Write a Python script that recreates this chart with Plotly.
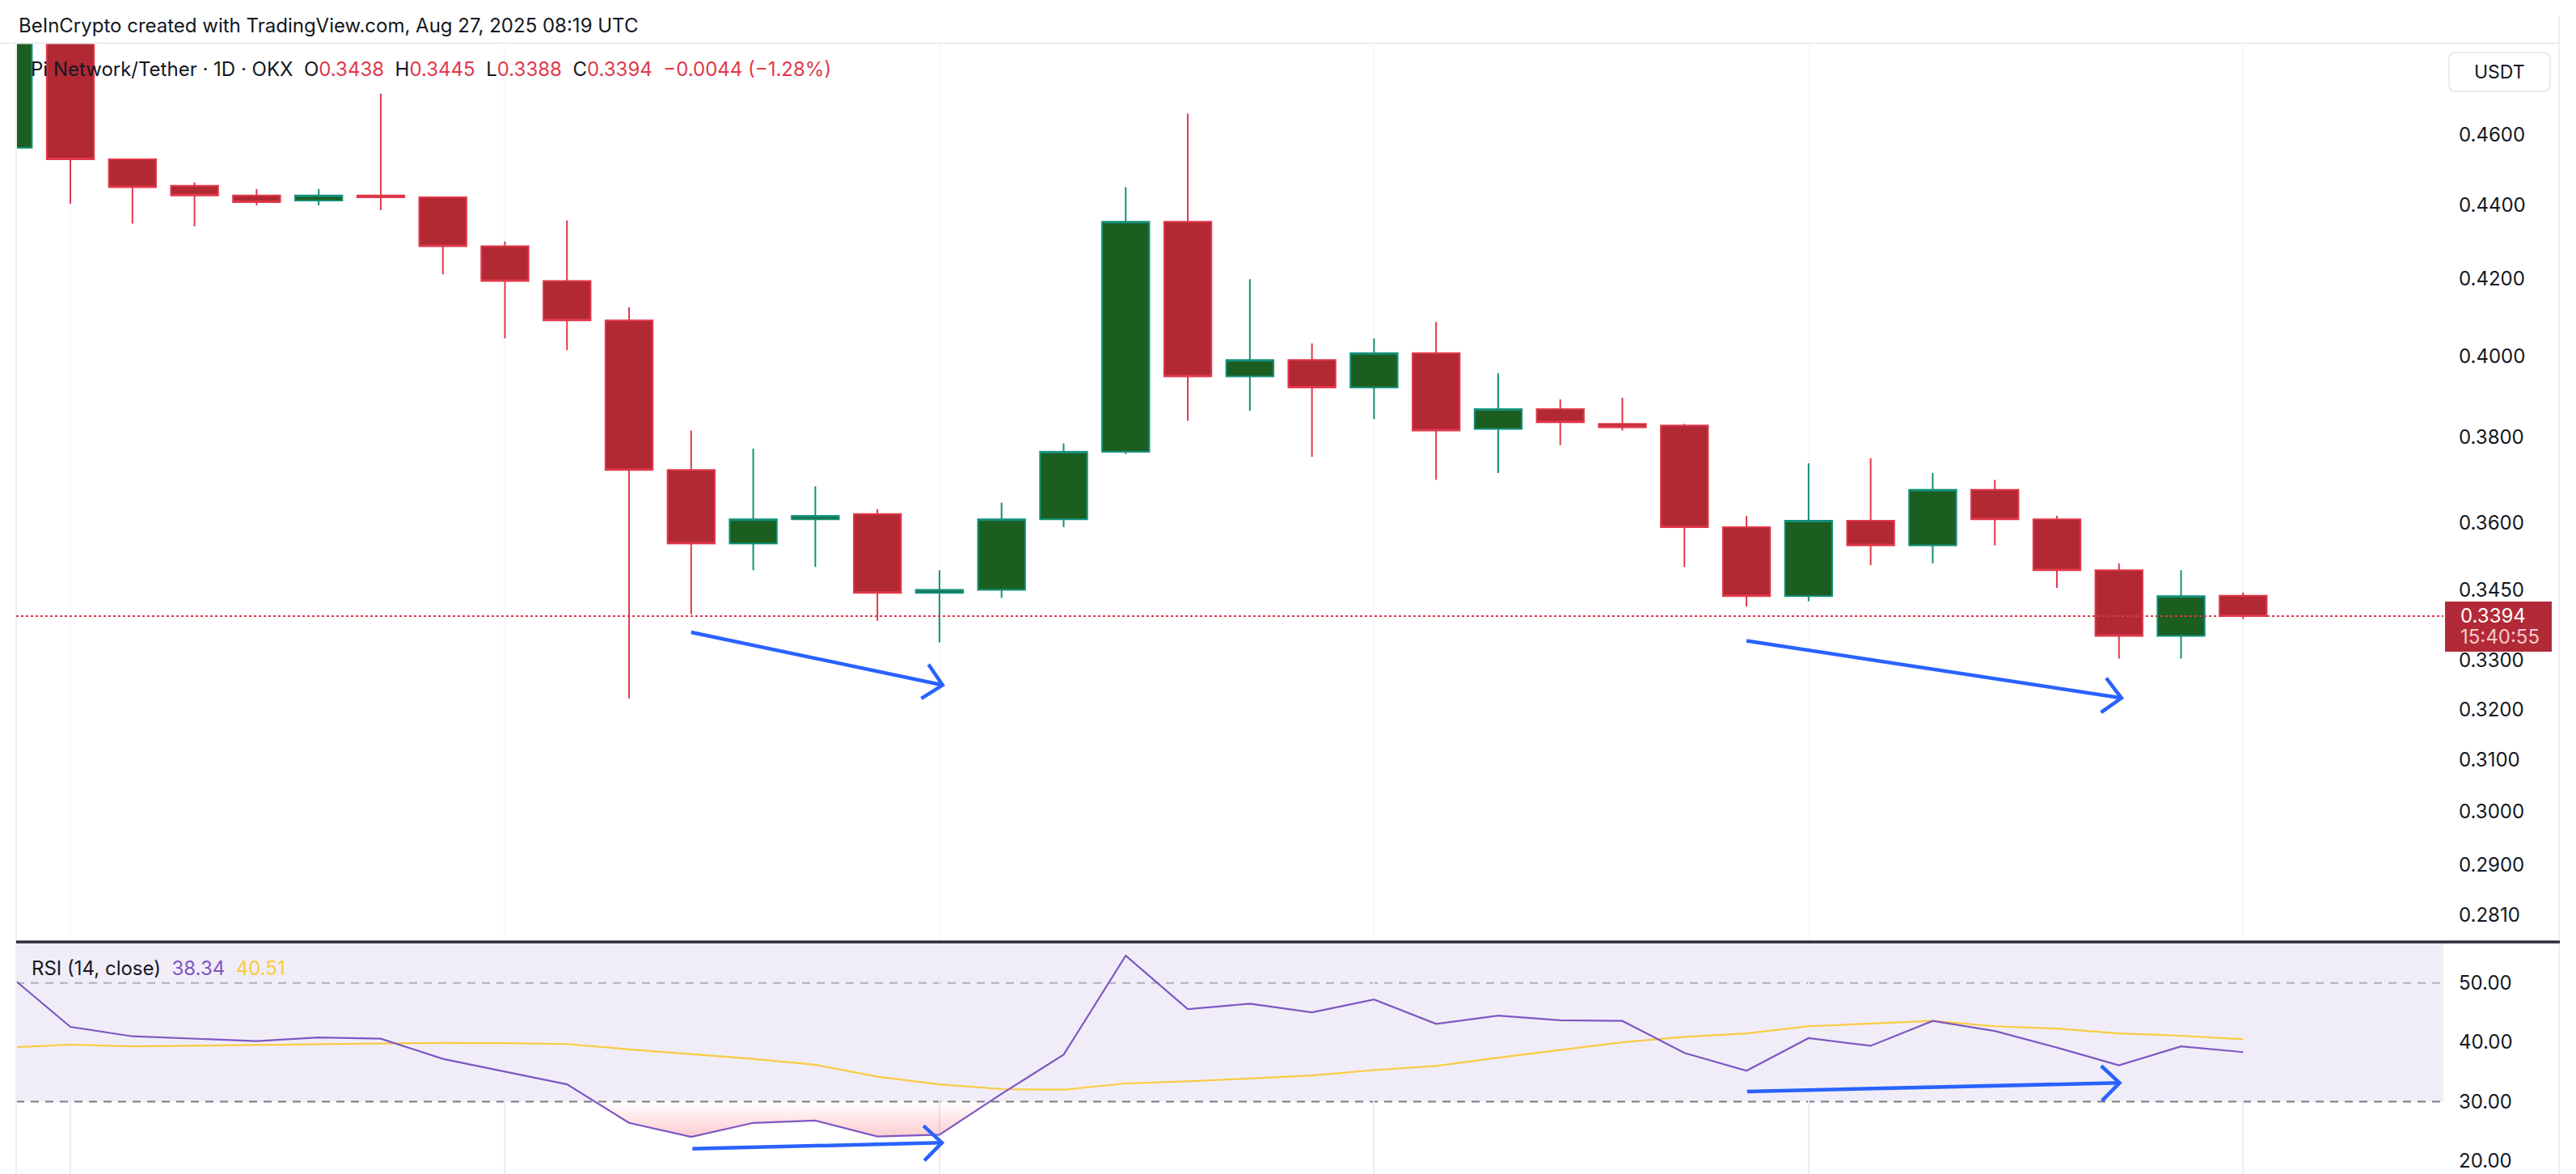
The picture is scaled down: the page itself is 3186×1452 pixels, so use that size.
import math
import plotly.graph_objects as go

W, H = 3186, 1452

# ---------------- data ----------------
candle_idx = list(range(1, 38))
open_ = [0.4562, 0.4880, 0.4529, 0.4454, 0.4427, 0.4413, 0.4427, 0.4422, 0.4287, 0.4194,
         0.4091, 0.3722, 0.3553, 0.3608, 0.3620, 0.3444, 0.3451, 0.3608, 0.3765, 0.4354,
         0.3949, 0.3990, 0.3921, 0.4007, 0.3820, 0.3868, 0.3832, 0.3828, 0.3590, 0.3437,
         0.3605, 0.3549, 0.3676, 0.3608, 0.3494, 0.3352, 0.3438]
high = [0.4950, 0.4950, 0.4529, 0.4464, 0.4445, 0.4445, 0.4721, 0.4422, 0.4300, 0.4358,
        0.4125, 0.3816, 0.3773, 0.3684, 0.3631, 0.3494, 0.3646, 0.3785, 0.4450, 0.4662,
        0.4199, 0.4032, 0.4045, 0.4087, 0.3957, 0.3892, 0.3896, 0.3832, 0.3616, 0.3738,
        0.3750, 0.3715, 0.3699, 0.3616, 0.3509, 0.3494, 0.3445]
low = [0.4540, 0.4404, 0.4349, 0.4341, 0.4399, 0.4399, 0.4386, 0.4212, 0.4045, 0.4015,
       0.3222, 0.3398, 0.3494, 0.3501, 0.3384, 0.3338, 0.3433, 0.3590, 0.3760, 0.3840,
       0.3864, 0.3753, 0.3844, 0.3699, 0.3715, 0.3781, 0.3816, 0.3501, 0.3415, 0.3426,
       0.3505, 0.3509, 0.3549, 0.3455, 0.3304, 0.3304, 0.3388]
close = [0.4880, 0.4529, 0.4450, 0.4427, 0.4408, 0.4427, 0.4422, 0.4287, 0.4194, 0.4091,
         0.3722, 0.3553, 0.3608, 0.3616, 0.3444, 0.3451, 0.3608, 0.3765, 0.4354, 0.3949,
         0.3990, 0.3921, 0.4007, 0.3816, 0.3868, 0.3836, 0.3824, 0.3590, 0.3437, 0.3605,
         0.3549, 0.3676, 0.3608, 0.3494, 0.3352, 0.3437, 0.3394]

rsi = [51.4, 42.6, 41.0, 40.55, 40.2, 40.8, 40.6, 37.2, 35.1, 32.9,
       26.4, 24.05, 26.4, 26.8, 24.1, 24.4, 31.3, 37.9, 54.6, 45.6,
       46.5, 45.05, 47.2, 43.1, 44.5, 43.7, 43.6, 38.2, 35.2, 40.7,
       39.4, 43.6, 41.9, 39.1, 36.1, 39.3, 38.34]
rsi_ma = [39.1, 39.6, 39.3, 39.4, 39.5, 39.65, 39.8, 39.9, 39.85, 39.7,
          38.8, 38.0, 37.2, 36.2, 34.2, 32.9, 32.1, 32.0, 33.05, 33.4,
          33.9, 34.4, 35.3, 36.0, 37.4, 38.7, 40.0, 40.9, 41.5, 42.7,
          43.2, 43.6, 42.7, 42.3, 41.5, 41.1, 40.51]

price_ticks = [0.4600, 0.4400, 0.4200, 0.4000, 0.3800, 0.3600, 0.3450, 0.3300,
               0.3200, 0.3100, 0.3000, 0.2900, 0.2810]
price_tick_text = ["0.4600", "0.4400", "0.4200", "0.4000", "0.3800", "0.3600", "0.3450",
                   "0.3300", "0.3200", "0.3100", "0.3000", "0.2900", "0.2810"]
rsi_ticks = [50, 40, 30, 20]
rsi_tick_text = ["50.00", "40.00", "30.00", "20.00"]
grid_idx = [2, 9, 16, 23, 30, 37]

last_price = 0.3394
last_price_text = "0.3394"
countdown_text = "15:40:55"
rsi_upper, rsi_mid, rsi_lower = 70, 50, 30

header_text = "BeInCrypto created with TradingView.com, Aug 27, 2025 08:19 UTC"
symbol_text = "Pi Network/Tether · 1D · OKX"
ohlc_labels = ["O", "H", "L", "C"]
ohlc_values = ["0.3438", "0.3445", "0.3388", "0.3394"]
change_text = "−0.0044 (−1.28%)"
rsi_name = "RSI (14, close)"
rsi_last, rsi_ma_last = "38.34", "40.51"

# arrows: (x_start, y_start, x_tip, y_tip)
price_arrows = [(12.0, 0.33596, 16.05, 0.32493), (29.0, 0.33416, 35.04, 0.32229)]
rsi_arrows = [(12.02, 22.05, 16.04, 23.05), (29.01, 31.7, 35.01, 33.15)]

# ---------------- geometry ----------------
PX_L, PX_R = 20, 3022
P_TOP, P_BOT = 54, 1164
R_TOP, R_BOT = 1166, 1452
X_RANGE = [1.127, 40.226]
PRICE_RANGE = [0.27641, 0.48723]
RSI_RANGE = [17.78, 56.78]

RED_BODY, RED_LINE = "#B22833", "#E0384A"
GRN_BODY, GRN_LINE = "#1B5E20", "#13907A"
TXT = "#131722"
PURPLE, YELLOW = "#7E57C2", "#F9CB40"
BLUE = "#2962FF"
FONT = "Inter"


def fx(px):
    return px / W


def fy(py):
    return (H - py) / H


lp0, lp1 = math.log10(PRICE_RANGE[0]), math.log10(PRICE_RANGE[1])


def x2px(x):
    return PX_L + (x - X_RANGE[0]) / (X_RANGE[1] - X_RANGE[0]) * (PX_R - PX_L)


def px2x(px):
    return X_RANGE[0] + (px - PX_L) / (PX_R - PX_L) * (X_RANGE[1] - X_RANGE[0])


def p2py(p):
    return P_TOP + (lp1 - math.log10(p)) / (lp1 - lp0) * (P_BOT - P_TOP)


def py2p(py):
    return 10 ** (lp1 - (py - P_TOP) / (P_BOT - P_TOP) * (lp1 - lp0))


def r2py(v):
    return R_TOP + (RSI_RANGE[1] - v) / (RSI_RANGE[1] - RSI_RANGE[0]) * (R_BOT - R_TOP)


def py2r(py):
    return RSI_RANGE[1] - (py - R_TOP) / (R_BOT - R_TOP) * (RSI_RANGE[1] - RSI_RANGE[0])


fig = go.Figure()

# candles
fig.add_trace(go.Candlestick(
    x=candle_idx, open=open_, high=high, low=low, close=close,
    increasing=dict(fillcolor=GRN_BODY, line=dict(color=GRN_LINE, width=2)),
    decreasing=dict(fillcolor=RED_BODY, line=dict(color=RED_LINE, width=2)),
    whiskerwidth=0, showlegend=False, hoverinfo="skip",
    xaxis="x", yaxis="y",
))

# oversold fill polygon (clip rsi below 30)
fx_pts, fy_pts = [], []
for i in range(len(rsi)):
    xi, vi = candle_idx[i], rsi[i]
    if i > 0:
        xp, vp = candle_idx[i - 1], rsi[i - 1]
        if (vp - rsi_lower) * (vi - rsi_lower) < 0:
            t = (rsi_lower - vp) / (vi - vp)
            fx_pts.append(xp + t * (xi - xp))
            fy_pts.append(rsi_lower)
    fx_pts.append(xi)
    fy_pts.append(min(vi, rsi_lower))
fig.add_trace(go.Scatter(x=candle_idx, y=[rsi_lower] * len(candle_idx), mode="lines",
                         line=dict(width=0, color="rgba(0,0,0,0)"), showlegend=False,
                         hoverinfo="skip", xaxis="x2", yaxis="y2"))
fig.add_trace(go.Scatter(x=fx_pts, y=fy_pts, mode="lines", fill="tonexty",
                         line=dict(width=0, color="rgba(0,0,0,0)"),
                         fillgradient=dict(type="vertical", start=22.5, stop=30,
                                           colorscale=[[0, "rgba(242,54,69,0.32)"],
                                                       [1, "rgba(242,54,69,0.0)"]]),
                         showlegend=False, hoverinfo="skip", xaxis="x2", yaxis="y2"))

# RSI MA and RSI
fig.add_trace(go.Scatter(x=candle_idx, y=rsi_ma, mode="lines",
                         line=dict(color=YELLOW, width=2.2), showlegend=False,
                         hoverinfo="skip", xaxis="x2", yaxis="y2"))
fig.add_trace(go.Scatter(x=candle_idx, y=rsi, mode="lines",
                         line=dict(color=PURPLE, width=2.2), showlegend=False,
                         hoverinfo="skip", xaxis="x2", yaxis="y2"))


def arrow_trace(a, to_py, from_py, yaxis, xaxis):
    xs, ys, xt, yt = a
    sx, sy = x2px(xs), to_py(ys)
    tx, ty = x2px(xt), to_py(yt)
    dx, dy = sx - tx, sy - ty
    n = math.hypot(dx, dy)
    ux, uy = dx / n, dy / n
    L, ang = 31, math.radians(44)
    arms = []
    for s in (1, -1):
        c, si = math.cos(s * ang), math.sin(s * ang)
        ax_, ay_ = ux * c - uy * si, ux * si + uy * c
        arms.append((tx + L * ax_, ty + L * ay_))
    X = [xs, xt, None, px2x(arms[0][0]), xt, px2x(arms[1][0])]
    Y = [ys, yt, None, from_py(arms[0][1]), yt, from_py(arms[1][1])]
    return go.Scatter(x=X, y=Y, mode="lines", line=dict(color=BLUE, width=4.5),
                      showlegend=False, hoverinfo="skip", xaxis=xaxis, yaxis=yaxis,
                      connectgaps=False)


for a in price_arrows:
    fig.add_trace(arrow_trace(a, p2py, py2p, "y", "x"))
for a in rsi_arrows:
    fig.add_trace(arrow_trace(a, r2py, py2r, "y2", "x2"))

# ---------------- shapes ----------------
shapes = []
# RSI band
shapes.append(dict(type="rect", xref="x2 domain", yref="y2", x0=0, x1=1,
                   y0=rsi_lower, y1=rsi_upper, fillcolor="rgba(126,87,194,0.11)",
                   line=dict(width=0), layer="below"))
shapes.append(dict(type="line", xref="x2 domain", yref="y2", x0=0, x1=1,
                   y0=rsi_mid, y1=rsi_mid,
                   line=dict(color="rgba(120,123,134,0.55)", width=2, dash="10px,8px"),
                   layer="below"))
shapes.append(dict(type="line", xref="x2 domain", yref="y2", x0=0, x1=1,
                   y0=rsi_lower, y1=rsi_lower,
                   line=dict(color="#787B86", width=2, dash="10px,8px"), layer="below"))
# faint frame lines
shapes.append(dict(type="line", xref="paper", yref="paper", x0=0, x1=fx(3166),
                   y0=fy(53.5), y1=fy(53.5), line=dict(color="#E9EBF0", width=2)))
shapes.append(dict(type="line", xref="paper", yref="paper", x0=fx(20), x1=fx(20),
                   y0=0, y1=fy(54), line=dict(color="#ECEDF1", width=2)))
shapes.append(dict(type="line", xref="paper", yref="paper", x0=fx(3165), x1=fx(3165),
                   y0=0, y1=fy(20), line=dict(color="#EEEFF3", width=2)))
# pane separator
shapes.append(dict(type="line", xref="paper", yref="paper", x0=fx(20), x1=fx(3166),
                   y0=fy(1165), y1=fy(1165), line=dict(color="#2A2E39", width=3.5)))
# last price dotted line
shapes.append(dict(type="line", xref="x domain", yref="y", x0=0, x1=1,
                   y0=last_price, y1=last_price,
                   line=dict(color=RED_LINE, width=2, dash="dot")))
# last price label box (pixel position derived from the price axis mapping)
lp_py = p2py(last_price)
shapes.append(dict(type="rect", xref="paper", yref="paper",
                   y0=fy(lp_py + 44), y1=fy(lp_py - 18),
                   x0=fx(3024), x1=fx(3156), fillcolor="#B22A37", line=dict(width=0)))


def rounded_rect(x0, y0, x1, y1, r):
    rx, ry = r / W, r / H
    X0, X1, Y0, Y1 = fx(x0), fx(x1), fy(y1), fy(y0)
    return (f"M {X0+rx},{Y0} L {X1-rx},{Y0} Q {X1},{Y0} {X1},{Y0+ry} "
            f"L {X1},{Y1-ry} Q {X1},{Y1} {X1-rx},{Y1} L {X0+rx},{Y1} "
            f"Q {X0},{Y1} {X0},{Y1-ry} L {X0},{Y0+ry} Q {X0},{Y0} {X0+rx},{Y0} Z")


shapes.append(dict(type="path", xref="paper", yref="paper",
                   path=rounded_rect(3029, 65, 3154, 113, 8),
                   fillcolor="white", line=dict(color="#E0E3EB", width=1.5)))

# ---------------- annotations ----------------
annotations = []
annotations.append(dict(xref="paper", yref="paper", x=fx(21), y=fy(31), text=header_text,
                        showarrow=False, xanchor="left", yanchor="middle",
                        font=dict(family=FONT, size=24, color=TXT)))
red_txt = "#E0384A"
nb = "\u00a0"
parts = [symbol_text + nb * 2]
for lab, val in zip(ohlc_labels, ohlc_values):
    parts.append(f"{lab}<span style='color:{red_txt}'>{val}</span>{nb * 2}")
parts.append(f"<span style='color:{red_txt}'>{change_text}</span>")
annotations.append(dict(xref="paper", yref="paper", x=fx(36), y=fy(85), text="".join(parts),
                        showarrow=False, xanchor="left", yanchor="middle",
                        font=dict(family=FONT, size=24, color=TXT)))
annotations.append(dict(xref="paper", yref="paper", x=fx(37), y=fy(1197),
                        text=(f"{rsi_name}{nb*2}<span style='color:{PURPLE}'>{rsi_last}</span>"
                              f"{nb*2}<span style='color:{YELLOW}'>{rsi_ma_last}</span>"),
                        showarrow=False, xanchor="left", yanchor="middle",
                        font=dict(family=FONT, size=24, color=TXT)))
annotations.append(dict(xref="paper", yref="paper", x=fx(3091), y=fy(89), text="USDT",
                        showarrow=False, xanchor="center", yanchor="middle",
                        font=dict(family=FONT, size=23, color=TXT)))
annotations.append(dict(xref="paper", yref="paper", x=fx(3041), y=fy(lp_py),
                        text=last_price_text, showarrow=False, xanchor="left",
                        yanchor="middle", font=dict(family=FONT, size=24, color="white")))
annotations.append(dict(xref="paper", yref="paper", x=fx(3041), y=fy(lp_py + 26),
                        text=countdown_text, showarrow=False, xanchor="left",
                        yanchor="middle", font=dict(family=FONT, size=24, color="#F6C9CE")))

fig.update_layout(
    width=W, height=H, margin=dict(l=0, r=0, t=0, b=0),
    paper_bgcolor="white", plot_bgcolor="rgba(0,0,0,0)",
    showlegend=False, boxgap=0.24, boxgroupgap=0, hovermode=False,
    shapes=shapes, annotations=annotations,
    xaxis=dict(domain=[fx(PX_L), fx(PX_R)], range=X_RANGE, anchor="y",
               showticklabels=False, ticks="", tickvals=grid_idx, showgrid=True,
               gridcolor="#F8F8FA", gridwidth=1.5, zeroline=False, showline=False,
               rangeslider=dict(visible=False), fixedrange=True),
    xaxis2=dict(domain=[fx(PX_L), fx(PX_R)], range=X_RANGE, anchor="y2", matches="x",
                showticklabels=False, ticks="", tickvals=grid_idx, showgrid=True,
                gridcolor="#EEEAF6", gridwidth=1.5, zeroline=False, showline=False),
    yaxis=dict(domain=[fy(P_BOT), fy(P_TOP)], type="log",
               range=[lp0, lp1], side="right", anchor="x",
               tickvals=price_ticks, ticktext=price_tick_text, ticks="",
               ticklabelstandoff=18, showgrid=False, zeroline=False, showline=False,
               tickfont=dict(family=FONT, size=24, color=TXT), automargin=False),
    yaxis2=dict(domain=[0, fy(R_TOP)], range=RSI_RANGE, side="right", anchor="x2",
                tickvals=rsi_ticks, ticktext=rsi_tick_text, ticks="",
                ticklabelstandoff=18, showgrid=False, zeroline=False, showline=False,
                tickfont=dict(family=FONT, size=24, color=TXT), automargin=False),
)

fig.write_html("out.html")
